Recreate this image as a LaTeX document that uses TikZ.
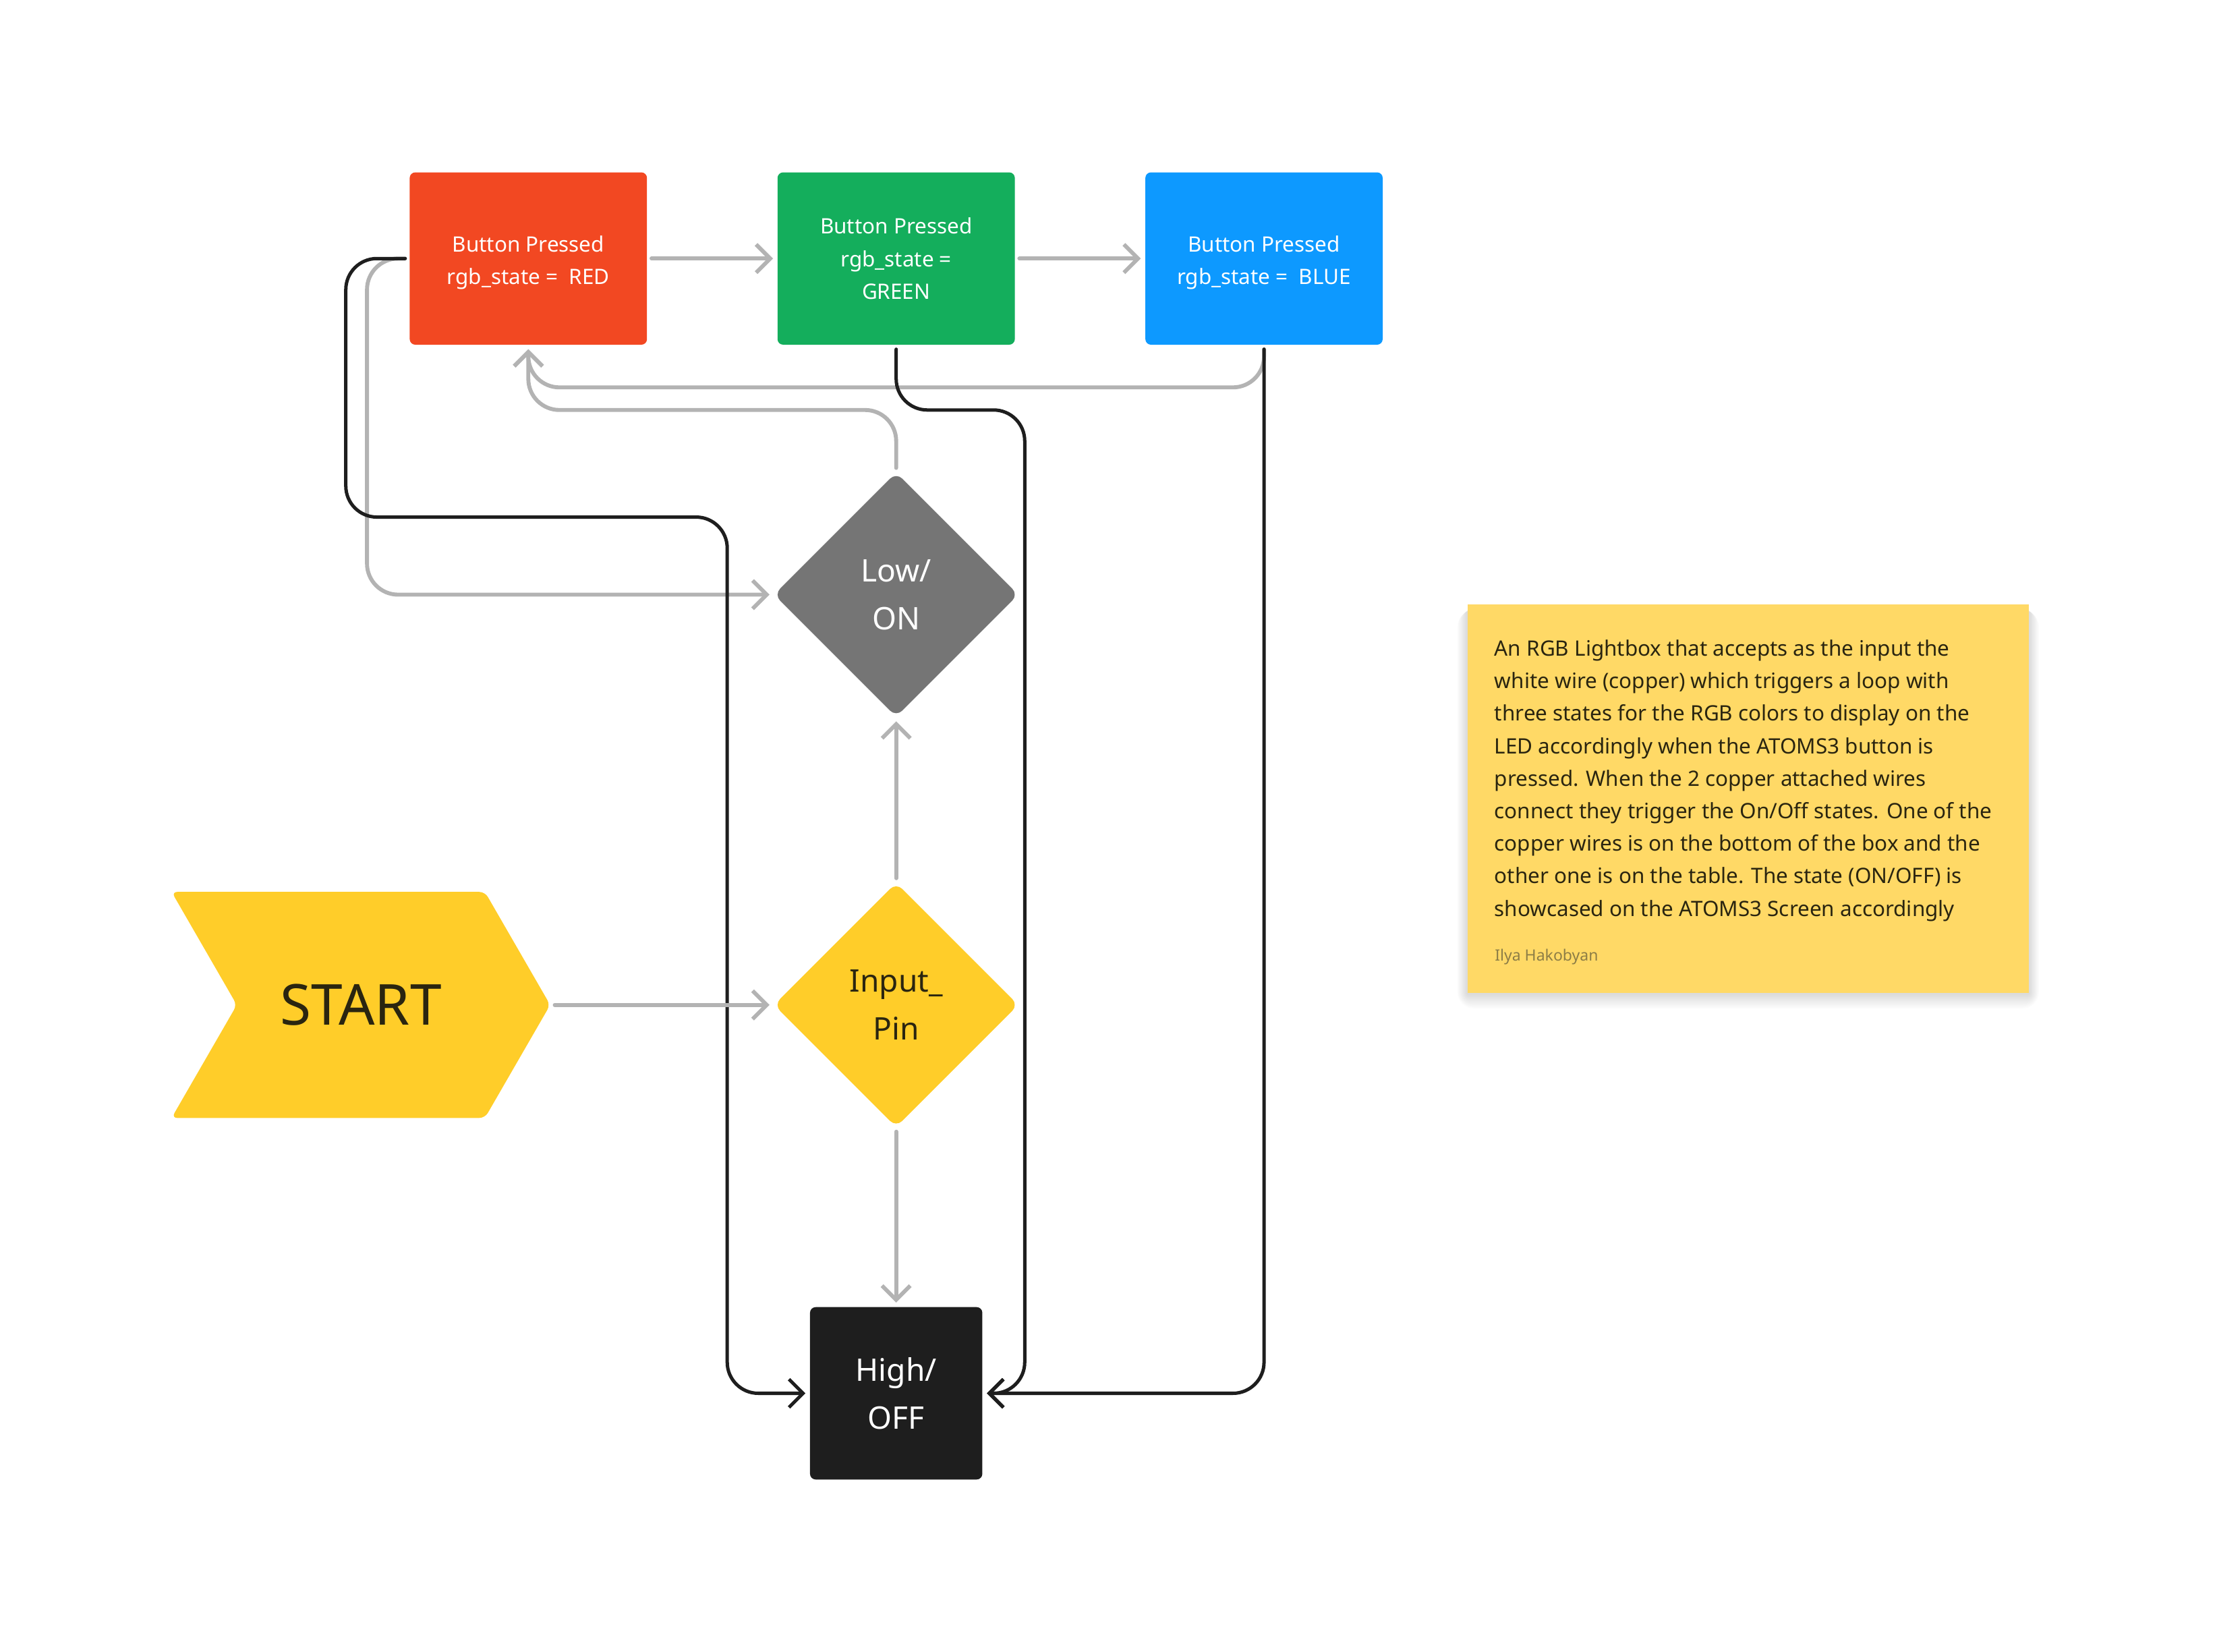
\documentclass[tikz,border=0pt]{standalone}
\usepackage{fontspec}
\setmainfont{Noto Sans}
\usetikzlibrary{arrows.meta,positioning,shapes.geometric,shapes.symbols,backgrounds}

\definecolor{figred}{HTML}{F24822}
\definecolor{figgreen}{HTML}{14AE5C}
\definecolor{figblue}{HTML}{0D99FF}
\definecolor{figyellow}{HTML}{FFCD29}
\definecolor{figgray}{HTML}{757575}
\definecolor{figblack}{HTML}{1E1E1E}
\definecolor{lineg}{HTML}{B3B3B3}
\definecolor{noteyellow}{HTML}{FFD966}
\definecolor{darktext}{HTML}{2A2510}
\definecolor{authortext}{HTML}{8C7D46}

\begin{document}
\begin{tikzpicture}[x=1pt, y=-1pt, >={Straight Barb[length=10pt,width=20pt]},
    box/.style={rounded corners=4pt, minimum width=168pt, minimum height=122pt, inner sep=0pt, align=center, text=white, font=\fontsize{15}{23}\selectfont},
    decision/.style={diamond, rounded corners=6pt, minimum width=173pt, minimum height=173pt, inner sep=0pt, align=center, font=\fontsize{22}{34}\selectfont},
    gline/.style={draw=lineg, line width=2.8pt, line cap=round, rounded corners=22pt, shorten <=3pt, shorten >=3pt},
    bline/.style={draw=figblack, line width=2.4pt, line cap=round, rounded corners=22pt, shorten <=3pt, shorten >=3pt}]
        \useasboundingbox (0,0) rectangle (1568,1169);

        \node[box, fill=figred] (red) at (374,183) {\rule{0pt}{17pt}Button Pressed\\rgb\_state =\ \ RED};
        \node[box, fill=figgreen, right=92pt of red] (green) {Button Pressed\\rgb\_state =\\GREEN};
        \node[box, fill=figblue, right=92pt of green] (blue) {\rule{0pt}{17pt}Button Pressed\\rgb\_state =\ \ BLUE};

        \node[decision, fill=figgray, text=white, below=90pt of green] (low) {Low/\\ON};
        \node[decision, fill=figyellow, text=darktext, below=117pt of low] (input) {Input\_\\Pin};
        \node[box, fill=figblack, minimum width=122pt, font=\fontsize{22}{34}\selectfont, below=127pt of input] (high) {High/\\OFF};

        \node[signal, signal to=east, signal from=west, signal pointer angle=120, rounded corners=4pt,
            fill=figyellow, text=darktext, minimum width=268pt, minimum height=160pt, inner sep=0pt,
            font=\fontsize{40}{40}\selectfont, left=158pt of input] (start) {START};

        % sticky note
        \node[fill=noteyellow, minimum width=397pt, minimum height=275pt, inner sep=0pt] (note) at (1237.5,565.5) {};
        \begin{scope}[on background layer]
            \foreach \s in {1,...,12}
                \fill[black, opacity=0.012, rounded corners=\s pt]
                    ([xshift=-0.6*\s pt, yshift=-4pt]note.north west) rectangle ([xshift=0.6*\s pt, yshift=-0.9*\s pt]note.south east);
        \end{scope}
        \node[anchor=north west, align=left, inner sep=0pt, text=darktext, font=\fontsize{15}{23}\selectfont]
            (notetext) at ([xshift=19pt, yshift=-25pt]note.north west)
            {An RGB Lightbox that accepts as the input the\\
            white wire (copper) which triggers a loop with\\
            three states for the RGB colors to display on the\\
            LED accordingly when the ATOMS3 button is\\
            pressed. When the 2 copper attached wires\\
            connect they trigger the On/Off states. One of the\\
            copper wires is on the bottom of the box and the\\
            other one is on the table. The state (ON/OFF) is\\
            showcased on the ATOMS3 Screen accordingly};
        \node[anchor=base west, inner sep=0pt, text=authortext, font=\fontsize{11}{13}\selectfont]
            (author) at (1058,680) {Ilya Hakobyan};

        % gray flow
        \draw[gline,->] (red.east) -- (green.west);
        \draw[gline,->] (green.east) -- (blue.west);
        \draw[gline,->] (blue.south) -- ++(0,30) -| (red.south);
        \draw[gline,->] (low.north) -- ++(0,-44) -| (red.south);
        \draw[gline,->] (red.west) -- ++(-30,0) |- (low.west);

        % black flow
        \draw[bline,->] (red.west) -- ++(-45,0) -- ++(0,183) -- ++(270,0) |- (high.west);
        \draw[bline,->] (green.south) -- ++(0,46) -- ++(91,0) |- (high.east);
        \draw[bline,->] (blue.south) |- (high.east);

        \draw[gline,->] (input.north) -- (low.south);
        \draw[gline,->] (start.east) -- (input.west);
        \draw[gline,->] (input.south) -- (high.north);
    \end{tikzpicture}
\end{document}
